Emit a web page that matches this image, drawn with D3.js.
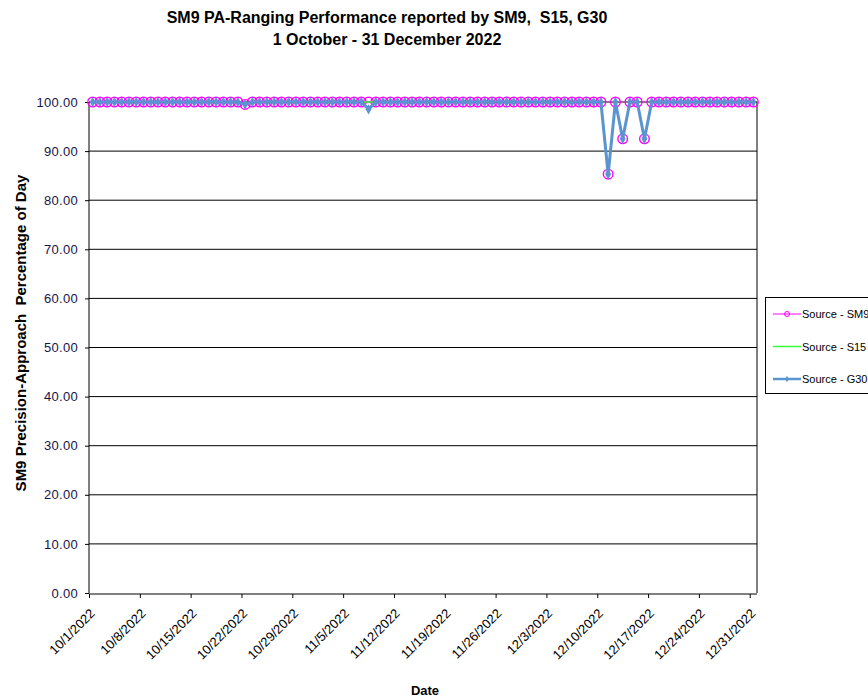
<!DOCTYPE html>
<html>
<head>
<meta charset="utf-8">
<script src="https://cdn.jsdelivr.net/npm/d3@7"></script>
<style>
  html, body { margin: 0; padding: 0; background: #fff; }
  svg { display: block; font-family: "Liberation Sans", Arial, sans-serif; }
</style>
</head>
<body>
<svg id="chart" width="868" height="698"></svg>
<script>
// Daily reporting period
const startDate = "2022-10-01";
const endDate = "2023-01-01";

// Daily percentage values, Oct 1 .. Dec 31 (one line per month)
const sm9Values = [
  100,100,100,100,100,100,100,100,100,100,100,100,100,100,100,100,100,100,100,100,100,99.5,100,100,100,100,100,100,100,100,100,
  100,100,100,100,100,100,100,100,100,100,100,100,100,100,100,100,100,100,100,100,100,100,100,100,100,100,100,100,100,100,
  100,100,100,100,100,100,100,100,100,100,85.3,100,92.5,100,100,92.5,100,100,100,100,100,100,100,100,100,100,100,100,100,100,100
];
const s15Values = [
  100,100,100,100,100,100,100,100,100,100,100,100,100,100,100,100,100,100,100,100,100,99.5,100,100,100,100,100,100,100,100,100,
  100,100,100,100,100,100,100,100,100,100,100,100,100,100,100,100,100,100,100,100,100,100,100,100,100,100,100,100,100,100,
  100,100,100,100,100,100,100,100,100,100,85.3,100,92.5,100,100,92.5,100,100,100,100,100,100,100,100,100,100,100,100,100,100,100
];
const g30Values = [
  100,100,100,100,100,100,100,100,100,100,100,100,100,100,100,100,100,100,100,100,100,99.5,100,100,100,100,100,100,100,100,100,
  100,100,100,100,100,100,100,98.5,100,100,100,100,100,100,100,100,100,100,100,100,100,100,100,100,100,100,100,100,100,100,
  100,100,100,100,100,100,100,100,100,100,85.3,100,92.5,100,100,92.5,100,100,100,100,100,100,100,100,100,100,100,100,100,100,100
];

const seriesNames = ["Source - SM9", "Source - S15", "Source - G30"];
const xTickLabels = ["10/1/2022","10/8/2022","10/15/2022","10/22/2022","10/29/2022","11/5/2022","11/12/2022",
  "11/19/2022","11/26/2022","12/3/2022","12/10/2022","12/17/2022","12/24/2022","12/31/2022"];
const yTicks = [0,10,20,30,40,50,60,70,80,90,100];

const titleLines = ["SM9 PA-Ranging Performance reported by SM9,  S15, G30", "1 October - 31 December 2022"];
const yTitle = "SM9 Precision-Approach  Percentage of Day";
const xTitle = "Date";

const parseIso = d3.timeParse("%Y-%m-%d");
const parseLabel = d3.timeParse("%m/%d/%Y");
const days = d3.timeDay.range(parseIso(startDate), parseIso(endDate));

const svg = d3.select("#chart");
const plot = { left: 89, right: 757, top: 102, bottom: 593 };

const x = d3.scaleTime().domain([parseIso(startDate), parseIso(endDate)]).range([plot.left, plot.right]);
const y = d3.scaleLinear().domain([0, 100]).range([plot.bottom, plot.top]);
const xMid = d => x(d3.timeHour.offset(d, 12));

// Titles
svg.append("text").attr("x", 387).attr("y", 23).attr("text-anchor", "middle")
  .attr("font-size", 16).attr("font-weight", "bold").attr("xml:space", "preserve")
  .style("white-space", "pre").text(titleLines[0]);
svg.append("text").attr("x", 387).attr("y", 45).attr("text-anchor", "middle")
  .attr("font-size", 16).attr("font-weight", "bold").text(titleLines[1]);

// Horizontal gridlines
svg.append("g").selectAll("line").data(yTicks.filter(t => t > 0)).join("line")
  .attr("x1", plot.left).attr("x2", plot.right)
  .attr("y1", d => y(d)).attr("y2", d => y(d))
  .attr("stroke", "#000").attr("stroke-width", 1);

// Right border of the plot area
svg.append("line").attr("x1", plot.right).attr("x2", plot.right)
  .attr("y1", plot.top).attr("y2", plot.bottom).attr("stroke", "#000");

// Y axis
const yAxis = svg.append("g").attr("transform", `translate(${plot.left},0)`)
  .call(d3.axisLeft(y).tickValues(yTicks).tickFormat(d3.format(".2f")).tickSize(4).tickPadding(7));
yAxis.select(".domain").attr("stroke", "#000").attr("d", `M0,${plot.top}V${plot.bottom}`);
yAxis.selectAll(".tick line").attr("stroke", "#000");
yAxis.selectAll(".tick text").attr("font-size", 13).attr("fill", "#15154a")
  .attr("letter-spacing", 0.3)
  .attr("font-family", "'Liberation Sans', Arial, sans-serif");

// X axis
const xTickDates = xTickLabels.map(parseLabel);
const xAxis = svg.append("g").attr("transform", `translate(0,${plot.bottom + 1})`)
  .call(d3.axisBottom(x).tickValues(xTickDates).tickSize(4).tickFormat((d, i) => xTickLabels[i]));
xAxis.select(".domain").attr("stroke", "#808080").attr("stroke-width", 2)
  .attr("d", `M${plot.left},0H${plot.right}`);
xAxis.selectAll(".tick line").attr("stroke", "#000");
xAxis.selectAll(".tick text")
  .attr("font-size", 13).attr("fill", "#000")
  .attr("font-family", "'Liberation Sans', Arial, sans-serif")
  .attr("text-anchor", "end")
  .attr("dy", "0.35em")
  .attr("transform", "translate(3,17) rotate(-45)")
  .attr("y", 0).attr("x", 0);

// Axis titles
svg.append("text").attr("transform", `translate(26,333) rotate(-90)`)
  .attr("text-anchor", "middle").attr("font-size", 15).attr("font-weight", "bold")
  .style("white-space", "pre").text(yTitle);
svg.append("text").attr("x", 425).attr("y", 695).attr("text-anchor", "middle")
  .attr("font-size", 13).attr("font-weight", "bold").text(xTitle);

// Series
const line = d3.line().x((d, i) => xMid(days[i])).y(d => y(d));

const colors = { sm9: "#ff00ff", s15: "#33ff33", g30: "#5b94d0" };

// SM9: thin line with open circles
svg.append("path").datum(sm9Values).attr("d", line)
  .attr("fill", "none").attr("stroke", colors.sm9).attr("stroke-width", 1);
svg.append("g").selectAll("circle").data(sm9Values).join("circle")
  .attr("cx", (d, i) => xMid(days[i])).attr("cy", d => y(d)).attr("r", 4.8)
  .attr("fill", "none").attr("stroke", colors.sm9).attr("stroke-width", 1.4);

// S15: plain green line
svg.append("path").datum(s15Values).attr("d", line)
  .attr("fill", "none").attr("stroke", colors.s15).attr("stroke-width", 1.5);

// G30: thick blue line with diamond markers
svg.append("path").datum(g30Values).attr("d", line)
  .attr("fill", "none").attr("stroke", colors.g30).attr("stroke-width", 3);
const diamond = d3.symbol().type(d3.symbolDiamond).size(30);
svg.append("g").selectAll("path").data(g30Values).join("path")
  .attr("transform", (d, i) => `translate(${xMid(days[i])},${y(d)})`)
  .attr("d", diamond).attr("fill", colors.g30);

// Legend
const legend = svg.append("g").attr("transform", "translate(765,297)");
legend.append("rect").attr("x", 0.5).attr("y", 0.5).attr("width", 130).attr("height", 96)
  .attr("fill", "#fff").attr("stroke", "#000");
const legendRows = [
  { name: seriesNames[0], color: colors.sm9, w: 1, marker: "circle" },
  { name: seriesNames[1], color: colors.s15, w: 1.5, marker: null },
  { name: seriesNames[2], color: colors.g30, w: 2.5, marker: "diamond" }
];
legendRows.forEach((r, i) => {
  const ly = 17 + i * 32.5;
  const g = legend.append("g").attr("transform", `translate(0,${ly})`);
  g.append("line").attr("x1", 8).attr("x2", 36).attr("y1", 0).attr("y2", 0)
    .attr("stroke", r.color).attr("stroke-width", r.w);
  if (r.marker === "circle") {
    g.append("circle").attr("cx", 22).attr("cy", 0).attr("r", 2.5)
      .attr("fill", "none").attr("stroke", r.color).attr("stroke-width", 1);
  } else if (r.marker === "diamond") {
    g.append("path").attr("transform", "translate(22,0)")
      .attr("d", d3.symbol().type(d3.symbolDiamond).size(12)).attr("fill", r.color);
  }
  g.append("text").attr("x", 37).attr("y", 4).attr("font-size", 11).text(r.name);
});
</script>
</body>
</html>
